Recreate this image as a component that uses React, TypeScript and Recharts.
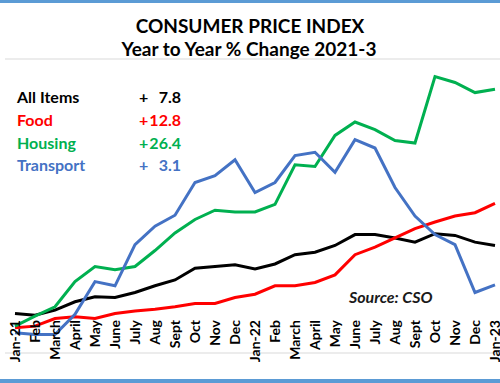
import React from 'react';
import { LineChart, Line, XAxis, YAxis, CartesianGrid } from 'recharts';

const months = ['Jan-21', 'Feb', 'March', 'April', 'May', 'June', 'July', 'Aug', 'Sept', 'Oct', 'Nov', 'Dec',
  'Jan-22', 'Feb', 'March', 'April', 'May', 'June', 'July', 'Aug', 'Sept', 'Oct', 'Nov', 'Dec', 'Jan-23'];

const allItems = [-0.3, -0.5, 0.1, 1.1, 1.7, 1.6, 2.2, 3.0, 3.7, 5.1, 5.3, 5.5, 5.0, 5.6, 6.7, 7.0, 7.8, 9.1, 9.1, 8.7, 8.2, 9.2, 9.0, 8.2, 7.8];
const food = [-2.0, -1.8, -0.9, -0.7, -0.9, -0.3, 0.0, 0.2, 0.5, 0.9, 0.9, 1.6, 2.0, 3.0, 3.0, 3.4, 4.3, 6.7, 7.6, 8.7, 9.8, 10.6, 11.3, 11.7, 12.8];
const housing = [-1.8, -0.6, 0.5, 3.5, 5.3, 4.9, 5.3, 7.2, 9.3, 10.9, 12.0, 11.8, 11.8, 12.7, 17.4, 17.2, 20.9, 22.5, 21.6, 20.3, 20.0, 27.9, 27.2, 26.0, 26.4];
const transport = [-2.6, -2.8, -2.8, -0.4, 3.5, 3.0, 7.9, 10.1, 11.4, 15.3, 16.1, 18.0, 14.1, 15.3, 18.5, 18.9, 16.5, 20.4, 19.4, 14.7, 11.3, 9.1, 7.9, 2.2, 3.1];

const yTicks = [-5, 0, 5, 10, 15, 20, 25, 30];

const legendRows = [
  { label: 'All Items', value: '7.8', color: '#000000' },
  { label: 'Food', value: '12.8', color: '#FF0000' },
  { label: 'Housing', value: '26.4', color: '#00B050' },
  { label: 'Transport', value: '3.1', color: '#4472C4' },
];

const data = months.map((m, i) => ({
  i,
  allItems: allItems[i],
  food: food[i],
  housing: housing[i],
  transport: transport[i],
}));

const FONT = 'Lato, "Open Sans", sans-serif';

const MonthTick = (props: any) => {
  const { x, y, payload } = props;
  const ty = y - 33;
  return (
    <text
      x={x}
      y={ty}
      dy="0.36em"
      transform={`rotate(-90 ${x} ${ty})`}
      textAnchor="end"
      fontFamily={FONT}
      fontWeight={700}
      fontSize={14}
      fill="#000"
    >
      {months[payload.value]}
    </text>
  );
};

export default function App() {
  return (
    <div style={{ position: 'absolute', left: 0, top: 0, width: 500, height: 383, overflow: 'hidden', background: '#fff' }}>
      <LineChart width={500} height={383} data={data} margin={{ top: 59, right: 0, bottom: 0, left: 5 }}>
        <CartesianGrid vertical={false} stroke="#D9D9D9" strokeWidth={1} />
        <YAxis width={0} domain={[-5, 30]} ticks={yTicks} tick={false} axisLine={false} tickLine={false} />
        <XAxis
          dataKey="i"
          type="category"
          interval={0}
          height={30}
          axisLine={false}
          tickLine={false}
          tickSize={0}
          tickMargin={0}
          padding={{ left: 10, right: 5 }}
          tick={<MonthTick />}
        />
        <Line type="linear" dataKey="allItems" stroke="#000000" strokeWidth={3} dot={false} isAnimationActive={false} />
        <Line type="linear" dataKey="food" stroke="#FF0000" strokeWidth={3} dot={false} isAnimationActive={false} />
        <Line type="linear" dataKey="housing" stroke="#00B050" strokeWidth={3} dot={false} isAnimationActive={false} />
        <Line type="linear" dataKey="transport" stroke="#4472C4" strokeWidth={3} dot={false} isAnimationActive={false} />
      </LineChart>
      <svg width={500} height={383} style={{ position: 'absolute', left: 0, top: 0, pointerEvents: 'none' }}>
        <rect x={0} y={0} width={500} height={3} fill="#5B9BD5" />
        <rect x={0} y={379} width={500} height={4} fill="#5B9BD5" />
        <text x={250} y={33} textAnchor="middle" fontFamily={FONT} fontWeight={700} fontSize={19} fill="#000">CONSUMER PRICE INDEX</text>
        <text x={249} y={56} textAnchor="middle" fontFamily={FONT} fontWeight={700} fontSize={19} fill="#000">Year to Year % Change 2021-3</text>
        {legendRows.map((r, k) => (
          <g key={r.label}>
            <text x={17} y={103 + k * 22.8} fontFamily={FONT} fontWeight={700} fontSize={16} fill={r.color}>{r.label}</text>
            <text x={139} y={103 + k * 22.8} fontFamily={FONT} fontWeight={700} fontSize={16} fill={r.color}>+</text>
            <text x={181} y={103 + k * 22.8} textAnchor="end" fontFamily={FONT} fontWeight={700} fontSize={16} fill={r.color}>{r.value}</text>
          </g>
        ))}
        <text x={349} y={303} fontFamily={FONT} fontStyle="italic" fontWeight={700} fontSize={16} fill="#1a1a1a">Source: CSO</text>
      </svg>
    </div>
  );
}
